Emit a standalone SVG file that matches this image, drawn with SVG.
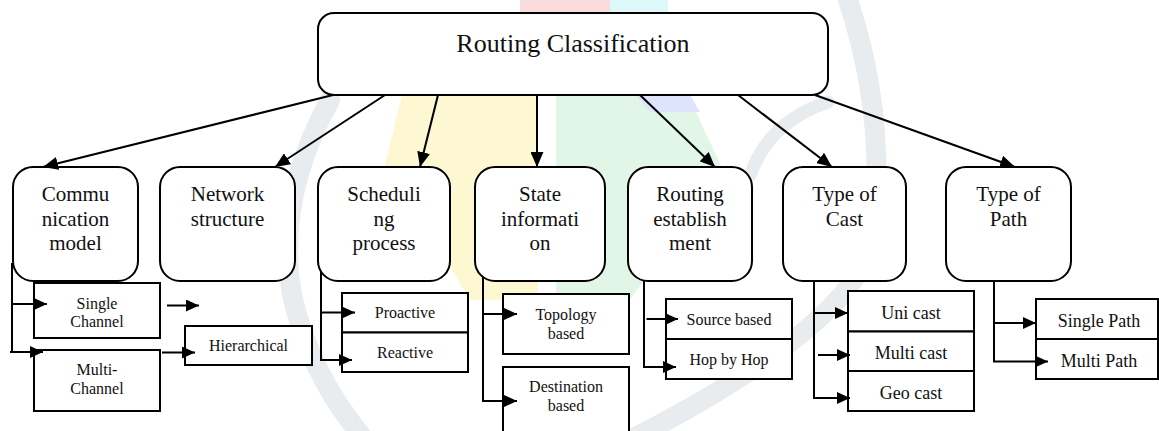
<svg xmlns="http://www.w3.org/2000/svg" width="1159" height="431" viewBox="0 0 1159 431">
  <defs>
    <style>
      .bg { fill: #ffffff; }
      .box { fill: #ffffff; stroke: #000000; stroke-width: 2; }
      .sub { fill: #ffffff; stroke: #000000; stroke-width: 2; }
      .edge { fill: none; stroke: #000000; stroke-width: 2; }
      .txt { fill: #111111; text-anchor: middle; }
      .t-root { font-size: 26px; }
      .t-cat { font-size: 21px; }
      .t-sub { font-size: 16px; }
      .t-sub2 { font-size: 18px; }
      .wm-gray { fill: none; stroke: #e9ecef; stroke-width: 20; stroke-linecap: round; }
      .wm-leaf { fill: none; stroke: #e9ecef; stroke-width: 13; stroke-linecap: round; }
    </style>
    <marker id="ah" viewBox="0 0 15 13" refX="15" refY="6.5" markerWidth="15" markerHeight="13" markerUnits="userSpaceOnUse" orient="auto">
      <path d="M0,0 L15,6.5 L0,13 Z" fill="#000000"/>
    </marker>
    <marker id="ahs" viewBox="0 0 13 12" refX="13" refY="6" markerWidth="13" markerHeight="12" markerUnits="userSpaceOnUse" orient="auto">
      <path d="M0,0 L13,6 L0,12 Z" fill="#000000"/>
    </marker>
  </defs>

  <rect class="bg" x="0" y="0" width="1159" height="431"/>

  <!-- faint background emblem -->
  <g id="watermark">
    <path d="M520,0 L610,0 L610,14 L520,14 Z" fill="#fbdcdc"/>
    <path d="M610,0 L668,0 L668,14 L610,14 Z" fill="#dcf8f8"/>
    <path d="M538,95 L402,95 L385,165 L440,250 L470,300 L538,300 Z" fill="#fdf8d2"/>
    <path d="M556,95 L688,95 L722,168 L660,260 L620,312 L556,312 Z" fill="#e2f6e8"/>
    <path d="M636,95 L690,95 L700,112 L650,112 Z" fill="#dde4fb"/>
    <path class="wm-gray" d="M330,100 Q275,200 292,295 Q310,375 365,440"/>
    <path class="wm-gray" d="M848,0 Q888,120 872,245 Q845,330 630,440"/>
    <path class="wm-leaf" d="M750,176 Q768,122 828,102"/>
  </g>

  <g font-family="'Liberation Serif', Tinos, 'Times New Roman', 'DejaVu Serif', serif">
  <!-- root -->
  <g id="root">
    <rect class="box" x="318" y="13" width="510" height="82" rx="16" ry="16"/>
    <text class="txt t-root" x="573" y="52">Routing Classification</text>
  </g>

  <!-- categories -->
  <g id="communication-model">
    <rect class="box" x="13" y="167" width="125" height="114" rx="20" ry="20"/>
    <text class="txt t-cat" x="75.5" y="201">Commu</text>
    <text class="txt t-cat" x="75.5" y="225.5">nication</text>
    <text class="txt t-cat" x="75.5" y="250">model</text>
  </g>
  <g id="network-structure">
    <rect class="box" x="160" y="167" width="135" height="114" rx="20" ry="20"/>
    <text class="txt t-cat" x="227.5" y="201">Network</text>
    <text class="txt t-cat" x="227.5" y="225.5">structure</text>
  </g>
  <g id="scheduling-process">
    <rect class="box" x="318" y="167" width="132" height="114" rx="20" ry="20"/>
    <text class="txt t-cat" x="384" y="201">Scheduli</text>
    <text class="txt t-cat" x="384" y="225.5">ng</text>
    <text class="txt t-cat" x="384" y="250">process</text>
  </g>
  <g id="state-information">
    <rect class="box" x="475" y="167" width="130" height="114" rx="20" ry="20"/>
    <text class="txt t-cat" x="540" y="201">State</text>
    <text class="txt t-cat" x="540" y="225.5">informati</text>
    <text class="txt t-cat" x="540" y="250">on</text>
  </g>
  <g id="routing-establishment">
    <rect class="box" x="628" y="167" width="124" height="114" rx="20" ry="20"/>
    <text class="txt t-cat" x="690" y="201">Routing</text>
    <text class="txt t-cat" x="690" y="225.5">establish</text>
    <text class="txt t-cat" x="690" y="250">ment</text>
  </g>
  <g id="type-of-cast">
    <rect class="box" x="783" y="167" width="123" height="114" rx="20" ry="20"/>
    <text class="txt t-cat" x="844.5" y="201">Type of</text>
    <text class="txt t-cat" x="844.5" y="225.5">Cast</text>
  </g>
  <g id="type-of-path">
    <rect class="box" x="946" y="167" width="125" height="114" rx="20" ry="20"/>
    <text class="txt t-cat" x="1008.5" y="201">Type of</text>
    <text class="txt t-cat" x="1008.5" y="225.5">Path</text>
  </g>

  <!-- leaves -->
  <g id="single-channel">
    <rect class="sub" x="34" y="283" width="126" height="55"/>
    <text class="txt t-sub" x="97" y="309">Single</text>
    <text class="txt t-sub" x="97" y="327">Channel</text>
  </g>
  <g id="multi-channel">
    <rect class="sub" x="34" y="350" width="126" height="61"/>
    <text class="txt t-sub" x="97" y="375">Multi-</text>
    <text class="txt t-sub" x="97" y="393.5">Channel</text>
  </g>
  <g id="hierarchical">
    <rect class="sub" x="185" y="326" width="127" height="39"/>
    <text class="txt t-sub" x="248.5" y="351">Hierarchical</text>
  </g>
  <g id="proactive">
    <rect class="sub" x="342" y="293" width="126" height="39.5"/>
    <text class="txt t-sub" x="405" y="317.5">Proactive</text>
  </g>
  <g id="reactive">
    <rect class="sub" x="342" y="332.5" width="126" height="39.5"/>
    <text class="txt t-sub" x="405" y="357.5">Reactive</text>
  </g>
  <g id="topology-based">
    <rect class="sub" x="503" y="294" width="126" height="60"/>
    <text class="txt t-sub" x="566" y="320">Topology</text>
    <text class="txt t-sub" x="566" y="338.5">based</text>
  </g>
  <g id="destination-based">
    <rect class="sub" x="503" y="367" width="126" height="80"/>
    <text class="txt t-sub" x="566" y="392">Destination</text>
    <text class="txt t-sub" x="566" y="410.5">based</text>
  </g>
  <g id="source-based">
    <rect class="sub" x="666" y="299" width="126" height="40"/>
    <text class="txt t-sub" x="729" y="325">Source based</text>
  </g>
  <g id="hop-by-hop">
    <rect class="sub" x="666" y="339" width="126" height="40"/>
    <text class="txt t-sub" x="729" y="365">Hop by Hop</text>
  </g>
  <g id="uni-cast">
    <rect class="sub" x="848" y="291" width="126" height="40.5"/>
    <text class="txt t-sub2" x="911" y="318.5">Uni cast</text>
  </g>
  <g id="multi-cast">
    <rect class="sub" x="848" y="331.5" width="126" height="39.5"/>
    <text class="txt t-sub2" x="911" y="359">Multi cast</text>
  </g>
  <g id="geo-cast">
    <rect class="sub" x="848" y="371" width="126" height="40"/>
    <text class="txt t-sub2" x="911" y="398.5">Geo cast</text>
  </g>
  <g id="single-path">
    <rect class="sub" x="1036" y="299" width="122" height="40"/>
    <text class="txt t-sub2" x="1099" y="327">Single Path</text>
  </g>
  <g id="multi-path">
    <rect class="sub" x="1036" y="339" width="122" height="40"/>
    <text class="txt t-sub2" x="1099" y="367">Multi Path</text>
  </g>
  </g>

  <!-- connectors -->
  <g id="connectors">
    <line class="edge" x1="333" y1="95" x2="43" y2="167" marker-end="url(#ah)"/>
    <line class="edge" x1="385" y1="95" x2="275" y2="167" marker-end="url(#ah)"/>
    <line class="edge" x1="438" y1="95" x2="420" y2="167" marker-end="url(#ah)"/>
    <line class="edge" x1="537" y1="95" x2="537" y2="167" marker-end="url(#ah)"/>
    <line class="edge" x1="640" y1="95" x2="715" y2="167" marker-end="url(#ah)"/>
    <line class="edge" x1="738" y1="95" x2="832" y2="167" marker-end="url(#ah)"/>
    <line class="edge" x1="815" y1="95" x2="1015" y2="167" marker-end="url(#ah)"/>

    <!-- communication model branch -->
    <line class="edge" x1="12" y1="263" x2="12" y2="353"/>
    <line class="edge" x1="12" y1="304" x2="47" y2="304" marker-end="url(#ahs)"/>
    <line class="edge" x1="10" y1="352" x2="43" y2="352" marker-end="url(#ahs)"/>
    <line class="edge" x1="167" y1="305.5" x2="199" y2="305.5" marker-end="url(#ahs)"/>
    <line class="edge" x1="162" y1="352.5" x2="195" y2="352.5" marker-end="url(#ahs)"/>

    <!-- scheduling branch -->
    <line class="edge" x1="321" y1="272" x2="321" y2="361"/>
    <line class="edge" x1="322" y1="312.5" x2="355" y2="312.5" marker-end="url(#ahs)"/>
    <line class="edge" x1="320" y1="360" x2="352" y2="360" marker-end="url(#ahs)"/>

    <!-- state information branch -->
    <line class="edge" x1="483" y1="277" x2="483" y2="402"/>
    <line class="edge" x1="483" y1="314" x2="517" y2="314" marker-end="url(#ahs)"/>
    <line class="edge" x1="482" y1="401" x2="517" y2="401" marker-end="url(#ahs)"/>

    <!-- routing establishment branch -->
    <line class="edge" x1="644" y1="281" x2="644" y2="368"/>
    <line class="edge" x1="646.5" y1="319" x2="678" y2="319" marker-end="url(#ahs)"/>
    <line class="edge" x1="643" y1="367" x2="676" y2="367" marker-end="url(#ahs)"/>

    <!-- type of cast branch -->
    <line class="edge" x1="814" y1="281" x2="814" y2="399"/>
    <line class="edge" x1="814" y1="313" x2="848" y2="313" marker-end="url(#ahs)"/>
    <line class="edge" x1="818" y1="355" x2="850" y2="355" marker-end="url(#ahs)"/>
    <line class="edge" x1="813" y1="398" x2="850" y2="398" marker-end="url(#ahs)"/>

    <!-- type of path branch -->
    <line class="edge" x1="994" y1="281" x2="994" y2="362"/>
    <line class="edge" x1="994" y1="323" x2="1036" y2="323" marker-end="url(#ahs)"/>
    <line class="edge" x1="993" y1="361.5" x2="1048" y2="361.5" marker-end="url(#ahs)"/>
  </g>
</svg>
